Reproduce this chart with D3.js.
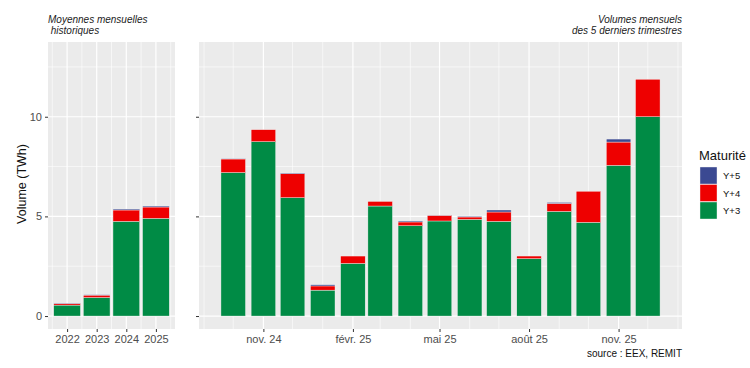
<!DOCTYPE html>
<html lang="fr">
<head>
<meta charset="utf-8">
<script src="https://cdn.jsdelivr.net/npm/d3@7"></script>
<style>
  body { margin: 0; background: #fff; }
  text { font-family: "Liberation Sans", Arial, sans-serif; }
</style>
</head>
<body>
<script>
// historical monthly averages (TWh)
const years = [2022, 2023, 2024, 2025];
const histY3 = [0.55, 0.93, 4.75, 4.90];
const histY4 = [0.07, 0.12, 0.57, 0.57];
const histY5 = [0.02, 0.02, 0.05, 0.05];

// monthly volumes, last 5 quarters (bar centred on 1st of month)
const months = ["2024-10-01", "2024-11-01", "2024-12-01", "2025-01-01", "2025-02-01",
                "2025-03-01", "2025-04-01", "2025-05-01", "2025-06-01", "2025-07-01",
                "2025-08-01", "2025-09-01", "2025-10-01", "2025-11-01", "2025-12-01"];
const monY3 = [7.20, 8.75, 5.94, 1.30, 2.64, 5.52, 4.53, 4.77, 4.85, 4.75, 2.88, 5.25, 4.70, 7.56, 10.00];
const monY4 = [0.68, 0.60, 1.20, 0.21, 0.37, 0.23, 0.19, 0.28, 0.12, 0.47, 0.13, 0.40, 1.56, 1.17, 1.88];
const monY5 = [0.02, 0.00, 0.03, 0.06, 0.00, 0.00, 0.05, 0.01, 0.04, 0.10, 0.00, 0.05, 0.00, 0.15, 0.00];

const xTickDates = ["2024-11-01", "2025-02-01", "2025-05-01", "2025-08-01", "2025-11-01"];
const xTickLabels = ["nov. 24", "févr. 25", "mai 25", "août 25", "nov. 25"];
const yTicks = [0, 5, 10];
const yMinor = [2.5, 7.5, 12.5];

const series = ["Y+3", "Y+4", "Y+5"];
const colors = {"Y+5": "#3B4992", "Y+4": "#EE0000", "Y+3": "#008B45"};

const W = 750, H = 368;
const pTop = 42, pBottom = 329;
const svg = d3.select("body").append("svg").attr("width", W).attr("height", H);

const y = d3.scaleLinear().domain([-0.65, 13.75]).range([pBottom, pTop]);

function stackRows(keys, a, b, c) {
  return keys.map((k, i) => ({key: k, "Y+3": a[i], "Y+4": b[i], "Y+5": c[i]}));
}
const stack = d3.stack().keys(series);

function panelBg(x0, x1) {
  svg.append("rect").attr("x", x0).attr("y", pTop).attr("width", x1 - x0).attr("height", pBottom - pTop)
    .attr("fill", "#EBEBEB");
  yMinor.forEach(v => svg.append("line").attr("x1", x0).attr("x2", x1).attr("y1", y(v)).attr("y2", y(v))
    .attr("stroke", "#fff").attr("stroke-width", 0.6));
  yTicks.forEach(v => svg.append("line").attr("x1", x0).attr("x2", x1).attr("y1", y(v)).attr("y2", y(v))
    .attr("stroke", "#fff").attr("stroke-width", 1.2));
}

// ---- left panel: historical averages
const lx0 = 48, lx1 = 175;
const xl = d3.scaleLinear().domain([2021.355, 2025.645]).range([lx0, lx1]);
panelBg(lx0, lx1);
[2021.5, 2022.5, 2023.5, 2024.5, 2025.5].forEach(v => svg.append("line")
  .attr("x1", xl(v)).attr("x2", xl(v)).attr("y1", pTop).attr("y2", pBottom)
  .attr("stroke", "#fff").attr("stroke-width", 0.6));
years.forEach(v => svg.append("line")
  .attr("x1", xl(v)).attr("x2", xl(v)).attr("y1", pTop).attr("y2", pBottom)
  .attr("stroke", "#fff").attr("stroke-width", 1.2));

const histStack = stack(stackRows(years, histY3, histY4, histY5));
const bwL = xl(0.9) - xl(0);
svg.append("g").selectAll("g").data(histStack).join("g")
  .attr("fill", d => colors[d.key])
  .selectAll("rect").data(d => d).join("rect")
  .attr("x", d => xl(d.data.key) - bwL / 2)
  .attr("width", bwL)
  .attr("y", d => y(d[1]))
  .attr("height", d => y(d[0]) - y(d[1]))
  .attr("stroke", "#f2f2f2").attr("stroke-width", 0.4);

// ---- right panel: monthly volumes
const rx0 = 199, rx1 = 682;
const parse = d3.utcParse("%Y-%m-%d");
const day = 864e5;
const first = parse(months[0]), last = parse(months[months.length - 1]);
const pad = 12.6 * day + 0.05 * ((last - first) + 25.2 * day);
const xr = d3.scaleUtc().domain([new Date(+first - pad), new Date(+last + pad)]).range([rx0, rx1]);
panelBg(rx0, rx1);
d3.utcMonth.range(parse("2024-09-01"), parse("2026-01-02")).forEach(dt => {
  const major = xTickDates.includes(d3.utcFormat("%Y-%m-%d")(dt));
  svg.append("line").attr("x1", xr(dt)).attr("x2", xr(dt)).attr("y1", pTop).attr("y2", pBottom)
    .attr("stroke", "#fff").attr("stroke-width", major ? 1.2 : 0.6);
});

const monStack = stack(stackRows(months, monY3, monY4, monY5));
const bwR = xr(new Date(+first + 25.2 * day)) - xr(first);
svg.append("g").selectAll("g").data(monStack).join("g")
  .attr("fill", d => colors[d.key])
  .selectAll("rect").data(d => d).join("rect")
  .attr("x", d => xr(parse(d.data.key)) - bwR / 2)
  .attr("width", bwR)
  .attr("y", d => y(d[1]))
  .attr("height", d => Math.max(0, y(d[0]) - y(d[1])))
  .attr("stroke", "#f2f2f2").attr("stroke-width", 0.4);

// ---- axes
const axL = svg.append("g").attr("transform", `translate(${lx0},0)`)
  .call(d3.axisLeft(y).tickValues(yTicks).tickSize(3).tickPadding(3));
const axR = svg.append("g").attr("transform", `translate(${rx0},0)`)
  .call(d3.axisLeft(y).tickValues(yTicks).tickSize(3).tickFormat(""));
const axBL = svg.append("g").attr("transform", `translate(0,${pBottom})`)
  .call(d3.axisBottom(xl).tickValues(years).tickFormat(d3.format("d")).tickSize(3).tickPadding(3));
const axBR = svg.append("g").attr("transform", `translate(0,${pBottom})`)
  .call(d3.axisBottom(xr).tickValues(xTickDates.map(parse)).tickFormat((d, i) => xTickLabels[i])
    .tickSize(3).tickPadding(3));
[axL, axR, axBL, axBR].forEach(a => {
  a.select(".domain").remove();
  a.selectAll(".tick line").attr("stroke", "#333");
  a.selectAll("text").attr("fill", "#4D4D4D").style("font-size", "11px")
    .style("font-family", "'Liberation Sans', Arial, sans-serif");
});

// ---- titles
svg.append("text").attr("transform", "translate(26,184) rotate(-90)").attr("text-anchor", "middle")
  .style("font-size", "12.5px").attr("fill", "#111").text("Volume (TWh)");

const tl = svg.append("text").attr("x", lx0).attr("y", 23).style("font-size", "10px")
  .style("font-style", "italic").attr("fill", "#222");
tl.append("tspan").attr("x", lx0).text("Moyennes mensuelles");
tl.append("tspan").attr("x", lx0).attr("dy", 10.5).text("\u00a0historiques");

const tr = svg.append("text").attr("x", rx1).attr("y", 23).attr("text-anchor", "end")
  .style("font-size", "10px").style("font-style", "italic").attr("fill", "#222");
tr.append("tspan").attr("x", rx1).text("Volumes mensuels");
tr.append("tspan").attr("x", rx1).attr("dy", 10.5).text("des 5 derniers trimestres");

svg.append("text").attr("x", rx1).attr("y", 357).attr("text-anchor", "end")
  .style("font-size", "10px").attr("fill", "#111").text("source : EEX, REMIT");

// ---- legend
const lg = svg.append("g").attr("transform", "translate(699,0)");
lg.append("text").attr("x", 0).attr("y", 160).style("font-size", "13px").attr("fill", "#111").text("Maturité");
["Y+5", "Y+4", "Y+3"].forEach((k, i) => {
  lg.append("rect").attr("x", 1).attr("y", 167 + i * 17.5).attr("width", 17).attr("height", 17)
    .attr("fill", colors[k]).attr("stroke", "#f2f2f2").attr("stroke-width", 0.4);
  lg.append("text").attr("x", 24).attr("y", 179 + i * 17.5).style("font-size", "9.5px")
    .attr("fill", "#111").text(k);
});
</script>
</body>
</html>
